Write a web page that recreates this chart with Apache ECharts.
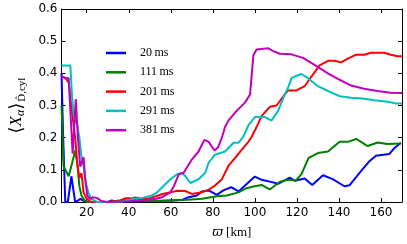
<!DOCTYPE html>
<html><head><meta charset="utf-8">
<script src="https://cdn.jsdelivr.net/npm/echarts@6/dist/echarts.min.js"></script>
<style>html,body{margin:0;padding:0;background:#fff}#c{width:407px;height:244px}</style>
</head><body><div id="c"></div>
<script>
const legendNames = ['20\u2009ms', '111\u2009ms', '201\u2009ms', '291\u2009ms', '381\u2009ms'];
const xTicks = [20, 40, 60, 80, 100, 120, 140, 160];
const yTicks = [0, 0.1, 0.2, 0.3, 0.4, 0.5, 0.6];

const blueX = [8, 8.8, 9.8, 11, 12.7, 13.6, 14.5, 16, 17, 18, 20, 25, 30, 32, 34, 40, 50, 60, 65, 68.5, 72.4, 74.8, 78, 81.9, 85, 88.7, 92.2, 95.3, 100, 103.2, 108.7, 111, 116.6, 119, 123.7, 127.3, 132.4, 137, 142.6, 145, 150.5, 154.5, 157.6, 163.9, 166.3, 169.5];
const blueY = [0.40, 0.2, 0.0, 0.0, 0.08, 0.04, 0.0, 0.005, 0.01, 0.005, 0.0, 0.0, 0.0, 0.005, 0.0, 0.002, 0.003, 0.005, 0.006, 0.015, 0.02, 0.033, 0.036, 0.022, 0.036, 0.046, 0.033, 0.051, 0.079, 0.069, 0.061, 0.056, 0.076, 0.066, 0.073, 0.053, 0.083, 0.071, 0.049, 0.052, 0.096, 0.127, 0.144, 0.149, 0.167, 0.184];

const greenX = [8, 9, 9.8, 11.4, 13, 14.5, 15.5, 16.5, 17.5, 19, 20, 30, 36, 40, 43, 48, 55, 60, 65, 70, 74.8, 82, 86.6, 92.2, 96, 99.3, 103.2, 107.1, 111.9, 115.8, 119.5, 122.1, 125.6, 130, 134.8, 140.3, 144.2, 148.2, 153.7, 158.4, 163, 169.5];
const greenY = [0.30, 0.11, 0.10, 0.08, 0.12, 0.16, 0.12, 0.05, 0.02, 0.005, 0.0, 0.0, 0.005, 0.012, 0.008, 0.003, 0.003, 0.005, 0.006, 0.008, 0.01, 0.018, 0.02, 0.03, 0.043, 0.048, 0.053, 0.039, 0.063, 0.069, 0.067, 0.086, 0.137, 0.152, 0.157, 0.187, 0.187, 0.196, 0.174, 0.185, 0.18, 0.182];

const redX = [8, 10, 11.5, 13, 14.5, 15.5, 16.5, 17.5, 18.5, 20, 22, 30, 36, 38.5, 41, 43, 46, 50, 53, 56, 60, 63, 67, 70, 74.8, 78, 81, 84.3, 87.4, 90.6, 93.7, 96.9, 98.5, 100.8, 103.2, 107.1, 110.3, 114.2, 115.8, 119.8, 123.7, 126.9, 130.8, 134.8, 138, 141, 144.2, 148.2, 152, 155.3, 161.6, 164.7, 167.9, 170];
const redY = [0.39, 0.385, 0.37, 0.28, 0.2, 0.12, 0.075, 0.09, 0.03, 0.01, 0.0, 0.0, 0.005, 0.012, 0.01, 0.014, 0.01, 0.012, 0.018, 0.025, 0.03, 0.035, 0.034, 0.025, 0.03, 0.038, 0.051, 0.071, 0.112, 0.137, 0.162, 0.187, 0.203, 0.233, 0.267, 0.296, 0.3, 0.334, 0.347, 0.347, 0.36, 0.39, 0.425, 0.439, 0.439, 0.434, 0.446, 0.458, 0.458, 0.464, 0.464, 0.458, 0.453, 0.453];

const cyanX = [8, 10, 12.2, 13, 14, 15.5, 16.5, 17.5, 18.5, 19.5, 20.8, 22, 25, 35, 40, 42, 46, 51, 53.5, 55.9, 59.8, 63, 65.3, 67, 69.3, 73.2, 76.4, 78, 81, 85.8, 89.8, 92.2, 94.5, 96.9, 100, 104.8, 107.9, 111.1, 114.2, 115.8, 117.4, 119, 122.1, 125.3, 130, 134.8, 140.3, 145.8, 151.3, 156.8, 163.2, 167.1, 170];
const cyanY = [0.424, 0.424, 0.424, 0.33, 0.26, 0.24, 0.2, 0.14, 0.11, 0.06, 0.03, 0.01, 0.0, 0.0, 0.005, 0.01, 0.012, 0.02, 0.03, 0.046, 0.071, 0.086, 0.09, 0.08, 0.059, 0.071, 0.091, 0.122, 0.147, 0.157, 0.184, 0.184, 0.203, 0.238, 0.264, 0.264, 0.253, 0.284, 0.334, 0.355, 0.385, 0.39, 0.398, 0.385, 0.36, 0.345, 0.329, 0.324, 0.322, 0.316, 0.312, 0.306, 0.306];

const magX = [8, 10, 11.4, 12.5, 13.3, 14.8, 15.8, 16.9, 18.5, 19.3, 20.3, 21.5, 23, 25, 27, 30, 40, 45, 50, 53, 55.9, 59.8, 61.5, 63.8, 66.1, 70, 73.2, 76, 78, 80.8, 82.5, 84.3, 85.8, 87.4, 91.4, 95.3, 97.7, 99.3, 100.8, 106.4, 108.5, 111.9, 117.4, 122.9, 128.4, 134.8, 140.3, 145.8, 152, 158.4, 164.7, 170];
const magY = [0.39, 0.385, 0.385, 0.25, 0.15, 0.32, 0.2, 0.11, 0.14, 0.07, 0.02, 0.01, 0.015, 0.012, 0.003, 0.0, 0.002, 0.005, 0.008, 0.01, 0.015, 0.03, 0.05, 0.086, 0.091, 0.132, 0.157, 0.193, 0.187, 0.16, 0.17, 0.2, 0.233, 0.253, 0.284, 0.309, 0.334, 0.456, 0.474, 0.478, 0.47, 0.461, 0.459, 0.448, 0.426, 0.4, 0.38, 0.362, 0.352, 0.345, 0.34, 0.339];

const colors = ['#0000ff', '#008000', '#ff0000', '#00bfbf', '#bf00bf'];
const xs = [blueX, greenX, redX, cyanX, magX];
const ys = [blueY, greenY, redY, cyanY, magY];

function pairs(a, b) { return a.map((v, i) => [v, b[i]]); }

const chart = echarts.init(document.getElementById('c'), null, {renderer: 'canvas'});
const axisCommon = {
  axisLine: {show: true, onZero: false, lineStyle: {color: '#000', width: 1}},
  splitLine: {show: false}
};
chart.setOption({
  animation: false,
  color: colors,
  grid: {left: 59, right: 5, top: 9, bottom: 37, containLabel: false},
  legend: {
    orient: 'vertical', left: 101, top: 41,
    icon: 'rect', itemWidth: 20, itemHeight: 2.5, itemGap: 5.3,
    textStyle: {fontFamily: 'Liberation Serif', fontSize: 12, color: '#000', lineHeight: 14, padding: [0, 0, 0, 9]},
    data: legendNames
  },
  xAxis: [
    Object.assign({}, axisCommon, {
      type: 'value', min: 8, max: 170, position: 'bottom',
      axisTick: {show: true, inside: true, length: 4, customValues: xTicks, lineStyle: {color: '#000'}},
      axisLabel: {show: true, customValues: xTicks, margin: 5, fontFamily: 'DejaVu Sans', fontSize: 12, color: '#000'},
      name: '{v|ϖ} {k|[km]}', nameLocation: 'middle', nameGap: 24,
      nameTextStyle: {rich: {
        v: {fontFamily: 'DejaVu Serif', fontStyle: 'italic', fontSize: 13, color: '#000'},
        k: {fontFamily: 'Liberation Serif', fontSize: 13, color: '#000'}
      }}
    }),
    Object.assign({}, axisCommon, {
      type: 'value', min: 8, max: 170, position: 'top',
      axisTick: {show: true, inside: true, length: 4, customValues: xTicks, lineStyle: {color: '#000'}},
      axisLabel: {show: false}
    })
  ],
  yAxis: [
    Object.assign({}, axisCommon, {
      type: 'value', min: 0, max: 0.6, interval: 0.1, position: 'left',
      axisTick: {show: true, inside: true, length: 4, lineStyle: {color: '#000'}},
      axisLabel: {show: true, margin: 4, fontFamily: 'DejaVu Sans', fontSize: 12, color: '#000',
        formatter: v => v.toFixed(1)},
      name: '{a|⟨}{x|X}{s|α}{a|⟩}{d|D̂,cyl}', nameLocation: 'middle', nameGap: 34, nameRotate: 90,
      nameTextStyle: {rich: {
        a: {fontFamily: 'DejaVu Serif', fontSize: 18, color: '#000'},
        x: {fontFamily: 'Liberation Serif', fontStyle: 'italic', fontSize: 17, color: '#000'},
        s: {fontFamily: 'Liberation Serif', fontStyle: 'italic', fontSize: 12, color: '#000', padding: [8, 0, 0, 0]},
        d: {fontFamily: 'Liberation Serif', fontSize: 11, color: '#000', padding: [10, 0, 0, 1]}
      }}
    }),
    Object.assign({}, axisCommon, {
      type: 'value', min: 0, max: 0.6, interval: 0.1, position: 'right',
      axisTick: {show: true, inside: true, length: 4, lineStyle: {color: '#000'}},
      axisLabel: {show: false}
    })
  ],
  series: legendNames.map((n, i) => ({
    name: n, type: 'line', xAxisIndex: 0, yAxisIndex: 0,
    data: pairs(xs[i], ys[i]),
    showSymbol: false, symbol: 'none',
    lineStyle: {width: 2, color: colors[i]},
    itemStyle: {color: colors[i]},
    clip: true
  }))
});
</script>
</body></html>
